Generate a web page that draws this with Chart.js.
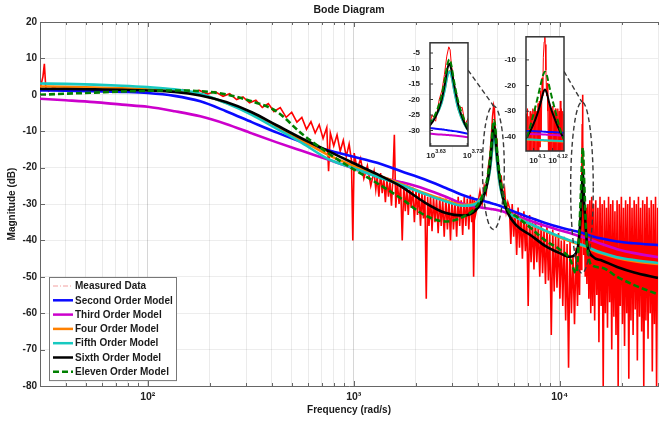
<!DOCTYPE html>
<html>
<head>
<meta charset="utf-8">
<script src="https://cdn.jsdelivr.net/npm/chart.js@4.4.1/dist/chart.umd.min.js"></script>
<style>
  html, body { margin: 0; padding: 0; background: #fff; }
  #wrap { position: relative; width: 663px; height: 425px; }
  #wrap canvas { position: absolute; }
</style>
</head>
<body>
<div id="wrap">
  <canvas id="bode" width="663" height="425" style="left:0;top:0"></canvas>
  <canvas id="zoomA" width="88" height="126" style="left:400px;top:36px"></canvas>
  <canvas id="zoomB" width="80" height="135" style="left:496px;top:30px"></canvas>
</div>
<script>
// --- data ---
const freq = [30, 40, 55, 75, 100, 135, 180, 240, 320, 420, 560, 750, 1000, 1300, 1700,
  2200, 2800, 3400, 3900, 4200, 4400, 4560, 4670, 4740, 4800, 4860, 4940, 5070, 5270, 5600,
  6200, 7200, 8500, 10000, 11200, 12000, 12360, 12650, 12800, 12880, 12940, 13000, 13080, 13250, 13550,
  14500, 16000, 19000, 23000, 30000];

const secondOrder = [1.2, 1.1, 1.0, 0.8, 0.5, -0.3, -1.8, -4.5, -7.5, -10.3, -13, -15.2, -17, -18.7, -21,
  -23.2, -25.6, -27.6, -28.7, -29.1, -29.4, -29.6, -29.8, -29.9, -30.0, -30.1, -30.2, -30.4, -30.8, -31.4,
  -32.4, -33.8, -35.2, -36.4, -37.1, -37.5, -37.7, -37.8, -37.9, -37.95, -38, -38.05, -38.1, -38.2, -38.4,
  -38.9, -39.5, -40.3, -40.8, -41.3];
const thirdOrder = [-1.1, -1.5, -2.0, -2.7, -3.3, -4.5, -5.9, -8.0, -10.6, -13, -15.4, -17.8, -20.2, -22.4, -24.0,
  -25.8, -28, -30, -30.7, -31.0, -31.2, -31.3, -31.4, -31.45, -31.5, -31.55, -31.65, -31.8, -32.0, -32.5,
  -33.3, -34.6, -36, -37.2, -38.0, -38.5, -38.8, -38.95, -39.0, -39.05, -39.1, -39.15, -39.2, -39.3, -39.5,
  -40.1, -41, -42.4, -43.5, -44.6];
const fourOrder = [2.3, 2.2, 2.0, 1.8, 1.5, 1.0, 0, -2.2, -5.0, -8.5, -12.5, -16.5, -19.5, -22, -24.5,
  -27, -29, -30.3, -29.8, -27.8, -25.3, -21.3, -16.3, -12.3, -10.8, -12.3, -16.8, -22.8, -27.8, -31.8,
  -33.7, -35.5, -37.4, -39.2, -40.2, -40.8, -41.1, -41.3, -41.4, -41.45, -41.5, -41.55, -41.6, -41.7, -41.9,
  -42.7, -43.6, -44.8, -45.7, -46.5];
const fifthOrder = [3.1, 3.0, 2.8, 2.5, 2.1, 1.5, 0.3, -2.3, -5.5, -9.2, -13.2, -17.6, -20.2, -22.5, -24.8,
  -27.2, -29.3, -30.5, -30, -28, -25.5, -21.5, -16.5, -12.5, -11, -12.5, -17, -23, -28, -32,
  -33.8, -35.5, -37.3, -39, -40, -40.6, -40.9, -41.1, -41.2, -41.25, -41.3, -41.35, -41.4, -41.5, -41.7,
  -42.5, -43.4, -44.6, -45.4, -46.2];
const sixthOrder = [1.6, 1.6, 1.5, 1.4, 1.2, 0.8, -0.2, -2.0, -4.8, -8.3, -12.0, -15.4, -18.8, -21.8, -25.2,
  -29.5, -32.5, -33.2, -31.8, -29, -25.5, -20.5, -14.5, -10, -8.5, -10.5, -15, -21.5, -27.5, -32.5,
  -36, -38.5, -41.5, -43.5, -44.5, -43.5, -40.5, -33, -27, -23, -21.5, -23, -27, -33, -40.5,
  -44.5, -45.5, -47.3, -48.8, -50.3];
const elevenOrder = [0, 0.3, 0.6, 0.9, 1.1, 1.2, 1.0, 0.1, -1.8, -4.5, -10.7, -16.0, -20.5, -24.3, -28.5,
  -33, -34.8, -33.5, -31, -28, -24.5, -19, -13, -8.5, -7, -9, -14, -20.5, -26.5, -31.5,
  -33.5, -36.5, -40, -42.5, -45, -49, -41, -28, -20, -16, -14.6, -16, -20.5, -29, -41,
  -47, -47.5, -50, -52.3, -54.8];

const modelLabels = ['Second Order Model', 'Third Order Model', 'Four Order Model',
  'Fifth Order Model', 'Sixth Order Model', 'Eleven Order Model'];
const modelSeries = [secondOrder, thirdOrder, fourOrder, fifthOrder, sixthOrder, elevenOrder];
const modelColors = ['#0a0aff', '#cc00cc', '#ff8000', '#17c9c0', '#000000', '#008000'];

// measured frequency response [rad/s, dB]
const measured = [
  [30,1.5],[31,5],[31.5,8.5],[32,2],[33,1],[35,2.2],[37,1.2],[40,1.8],[44,1.2],[48,2],[53,1.3],[58,1.9],
  [64,1.2],[70,1.8],[77,1.1],[85,1.7],[93,1.0],[102,1.6],[112,0.9],[123,1.5],[135,0.8],[148,1.4],[162,0.6],
  [178,1.2],[195,0.2],[212,0.9],[232,-0.4],[250,0.3],[270,-1.3],[290,-0.6],[312,-2.2],[335,-1.5],[360,-3.5],
  [385,-2.4],[410,-4.6],[440,-3.5],[470,-6.2],[500,-4.8],[530,-7.5],[560,-6.2],[590,-9.5],[620,-7.4],
  [650,-10.5],[680,-8.2],[710,-12],[740,-9],[755,-21],[770,-10.5],[800,-14],[830,-11],[860,-15.5],[890,-12.5],
  [920,-17],[950,-13.5],[975,-18],[990,-40],[1005,-16],[1040,-20.5],[1080,-17.5],[1120,-23],[1165,-19.5],
  [1210,-25],[1255,-21],[1280,-26],[1300,-22.5],[1325,-28],[1350,-21.5],[1375,-27],[1400,-23],[1425,-29.5],
  [1450,-23],[1475,-28],[1500,-24],[1525,-30.5],[1550,-22.5],[1575,-11],[1600,-31],[1630,-24],[1660,-30],
  [1690,-24.5],[1720,-40],[1750,-25],[1780,-32],[1810,-25.5],[1840,-33],[1870,-26],[1900,-31],[1935,-25.5],
  [1970,-35],[2005,-26],[2040,-33],[2075,-26.5],[2110,-36],[2145,-27],[2180,-34],[2215,-27],[2250,-56],
  [2285,-28],[2320,-36],[2360,-27.5],[2400,-37.5],[2440,-28],[2480,-35],[2525,-28.5],[2570,-38],[2615,-28],
  [2660,-36],[2705,-29],[2750,-39],[2800,-28.5],[2850,-37],[2900,-29],[2950,-40],[3000,-28.5],[3050,-37],
  [3105,-29],[3160,-39],[3215,-28],[3270,-36],[3325,-29],[3380,-38.5],[3440,-28],[3500,-36],[3560,-28.5],
  [3620,-37],[3680,-27.5],[3740,-35],[3780,-28],[3820,-50],[3860,-29],[3900,-33],
  [4000,-30],[4100,-26.5],[4200,-30],[4300,-25],[4400,-27],[4500,-20],[4580,-17],[4650,-12],
  [4720,-6],[4780,-3],[4820,-4],[4860,-9],[4910,-12],[4960,-16.5],[5020,-18],[5100,-23],[5200,-22.5],
  [5300,-28],[5400,-26],[5500,-32],[5600,-29.5],
  [5700,-31],[5790,-41],[5880,-30],[5980,-39],[6080,-32],[6180,-44],[6280,-31],[6380,-42],[6480,-33],
  [6590,-45],[6700,-32],[6810,-43],[6920,-34],[7030,-58],[7140,-33],[7260,-46],[7380,-35],[7500,-48],
  [7620,-34],[7740,-46],[7870,-36],[8000,-50],[8130,-35],[8260,-49],[8390,-37],[8530,-52],[8670,-36],
  [8810,-51],[8950,-38],[9100,-66],[9250,-37],[9400,-54],[9550,-39],[9700,-53],[9860,-38],[10020,-56],
  [10180,-40],[10350,-58],[10520,-39],[10690,-62],[10860,-41],[11040,-75],[11220,-40],[11400,-60],
  [11600,-44],[11800,-63],[12000,-42],[12200,-58],[12350,-38],[12480,-55],[12600,-33],[12700,-48],
  [12800,-22],[12860,-8],[12900,0],[12930,-2],[12960,-12],[13000,-28],[13080,-44],[13180,-32],[13300,-50],
  [13420,-31],[13550,-52],[13700,-30],[13850,-56],[14000,-29],[14150,-60],[14300,-28],[14450,-58],
  [14600,-30],[14780,-62],[14960,-29],[15140,-55],[15320,-31],[15500,-68],[15690,-28],[15880,-58],
  [16070,-30],[16260,-80],[16460,-29],[16660,-60],[16860,-31],[17060,-64],[17260,-28],[17470,-57],
  [17680,-30],[17890,-70],[18100,-29],[18320,-61],[18540,-32],[18760,-66],[18990,-29],[19220,-80],
  [19450,-30],[19680,-58],[19920,-28],[20160,-63],[20400,-31],[20640,-69],[20890,-29],[21140,-60],
  [21390,-30],[21650,-78],[21910,-28],[22170,-62],[22440,-31],[22710,-66],[22980,-29],[23260,-59],
  [23540,-30],[23820,-73],[24110,-28],[24400,-61],[24690,-31],[24990,-65],[25290,-29],[25590,-80],
  [25900,-30],[26210,-62],[26520,-28],[26840,-67],[27160,-31],[27490,-60],[27820,-29],[28150,-76],
  [28490,-30],[28830,-63],[29180,-28],[29530,-80],[29900,-31]
];

// finer sampling of the measurement around the second resonance (inset)
const measuredZoom2 = [
  [12365,-31],[12385,-48],[12405,-29],[12425,-47],[12445,-32],[12465,-48],[12485,-30],[12505,-47],
  [12525,-31],[12545,-48],[12565,-29],[12585,-46],[12605,-30],[12625,-47],[12645,-28],[12665,-48],
  [12685,-30],[12705,-46],[12725,-27],[12745,-47],[12765,-26],[12785,-44],[12805,-22],[12825,-38],
  [12850,-17],[12870,-24],[12890,-9],[12915,-3],[12935,0],[12950,-4],[12970,-14],[12990,-24],
  [13010,-19],[13030,-30],[13050,-46],[13070,-27],[13090,-48],[13110,-29],[13130,-47],[13150,-30],
  [13170,-48],[13190,-28],[13210,-47],[13230,-30],[13250,-48],[13270,-29],[13290,-47],[13310,-31],
  [13330,-48],[13350,-29],[13370,-47],[13390,-30],[13410,-48],[13430,-26],[13450,-47],[13470,-29],
  [13490,-48],[13510,-30],[13530,-47],[13550,-31]
];

// axes
const xTickVals = [30, 40, 50, 60, 70, 80, 90, 100, 200, 300, 400, 500, 600, 700, 800, 900,
  1000, 2000, 3000, 4000, 5000, 6000, 7000, 8000, 9000, 10000, 20000, 30000];
const xTickLabels = { 100: '10²', 1000: '10³', 10000: '10⁴' };

const zoomA = { freq: [4246, 5395], db: [-35, -1.7], xTicks: [4266.6, 5370.3], xExp: ['3.63', '3.73'],
  yTicks: [-30, -25, -20, -15, -10, -5] };
const zoomB = { freq: [12359, 13552], db: [-45.5, -1], xTicks: [12589, 13183], xExp: ['4.1', '4.12'],
  yTicks: [-40, -30, -20, -10] };

// dashed ellipses marking the zoomed resonances
const ellipseFreq = [[4217, 5383], [11300, 14550]];
const ellipseDb = [[-3, -37], [-2, -49]];
const connectorDb = [-10.5, -14.5];

const FONT = '"Liberation Sans", Arial, Helvetica, sans-serif';

function buildSets(measPts, width, measWidth) {
  const sets = [{
    label: 'Measured Data',
    data: measPts.map(([f, db]) => ({ x: f, y: db })),
    borderColor: '#ff0000', borderWidth: measWidth, pointRadius: 0, order: 7
  }];
  modelSeries.forEach((vals, i) => {
    sets.push({
      label: modelLabels[i],
      data: freq.map((f, k) => ({ x: f, y: vals[k] })),
      borderColor: modelColors[i],
      borderWidth: width,
      borderDash: i === 5 ? [6, 3] : [],
      pointRadius: 0,
      cubicInterpolationMode: 'monotone',
      order: 6 - i
    });
  });
  return sets;
}

const insetFrame = {
  id: 'insetFrame',
  beforeDatasetsDraw(chart) {
    const { ctx, chartArea: a } = chart;
    ctx.save();
    ctx.fillStyle = '#fff';
    ctx.fillRect(a.left, a.top, a.right - a.left, a.bottom - a.top);
    ctx.restore();
  },
  afterDatasetsDraw(chart) {
    const { ctx, chartArea: a, scales } = chart;
    const z = chart.options.zoomInfo;
    ctx.save();
    ctx.strokeStyle = '#333';
    ctx.lineWidth = 1.5;
    ctx.strokeRect(a.left, a.top, a.right - a.left, a.bottom - a.top);
    ctx.lineWidth = 1;
    ctx.beginPath();
    scales.y.ticks.forEach(t => {
      const y = scales.y.getPixelForValue(t.value);
      ctx.moveTo(a.left, y); ctx.lineTo(a.left + 3, y);
    });
    scales.x.ticks.forEach(t => {
      const x = scales.x.getPixelForValue(t.value);
      ctx.moveTo(x, a.bottom); ctx.lineTo(x, a.bottom - 3);
    });
    ctx.stroke();
    // power-of-ten tick labels with raised exponent
    ctx.fillStyle = '#222';
    ctx.textBaseline = 'alphabetic';
    ctx.textAlign = 'left';
    scales.x.ticks.forEach((t, i) => {
      const x = scales.x.getPixelForValue(t.value);
      ctx.font = 'bold 8px ' + FONT;
      const wb = ctx.measureText('10').width;
      ctx.fillText('10', x - wb / 2, a.bottom + 12);
      ctx.font = 'bold 5.5px ' + FONT;
      ctx.fillText(z.xExp[i], x + wb / 2, a.bottom + 7);
    });
    ctx.restore();
  }
};

function makeInset(id, z, xHeight, padRight) {
  return new Chart(document.getElementById(id), {
    type: 'line',
    data: { datasets: buildSets(id === 'zoomA' ? measured : measuredZoom2, 2, 1) },
    options: {
      responsive: false, animation: false, events: [],
      zoomInfo: z,
      layout: { padding: { top: 6, right: padRight, left: 0, bottom: 0 } },
      plugins: { legend: { display: false }, tooltip: { enabled: false } },
      scales: {
        x: {
          type: 'logarithmic', min: z.freq[0], max: z.freq[1],
          afterBuildTicks: s => { s.ticks = z.xTicks.map(v => ({ value: v })); },
          afterFit: s => { s.height = xHeight; },
          ticks: { autoSkip: false, maxRotation: 0, callback: () => '' },
          grid: { display: false }, border: { display: false }
        },
        y: {
          min: z.db[0], max: z.db[1],
          afterBuildTicks: s => { s.ticks = z.yTicks.map(v => ({ value: v })); },
          afterFit: s => { s.width = 30; },
          ticks: { padding: 2, color: '#222', font: { family: FONT, size: 8, weight: 'bold' } },
          grid: { display: false }, border: { display: false }
        }
      }
    },
    plugins: [insetFrame]
  });
}

const insetA = makeInset('zoomA', zoomA, 16, 20);
const insetB = makeInset('zoomB', zoomB, 14, 12);
const insets = [insetA, insetB];

const bodeDecor = {
  id: 'bodeDecor',
  afterDatasetsDraw(chart) {
    const { ctx, scales: { x, y } } = chart;
    ctx.save();
    ctx.strokeStyle = '#3a3a3a';
    ctx.lineWidth = 1.4;
    ctx.setLineDash([5, 3]);
    ellipseFreq.forEach((fr, i) => {
      const x1 = x.getPixelForValue(fr[0]), x2 = x.getPixelForValue(fr[1]);
      const y1 = y.getPixelForValue(ellipseDb[i][0]), y2 = y.getPixelForValue(ellipseDb[i][1]);
      const cx = (x1 + x2) / 2;
      ctx.beginPath();
      ctx.ellipse(cx, (y1 + y2) / 2, (x2 - x1) / 2, (y2 - y1) / 2, 0, 0, Math.PI * 2);
      ctx.stroke();
      // connector from inset frame to ellipse top
      const ins = insets[i];
      const off = ins.canvas;
      const sx = parseFloat(off.style.left) + ins.chartArea.right;
      const sy = parseFloat(off.style.top) + ins.scales.y.getPixelForValue(connectorDb[i]);
      ctx.beginPath();
      ctx.moveTo(sx, sy);
      ctx.lineTo(cx, y1);
      ctx.stroke();
    });
    ctx.restore();
  },
  afterDraw(chart) {
    const { ctx, chartArea: a, scales: { x, y } } = chart;
    ctx.save();
    // top frame and inner tick marks
    ctx.strokeStyle = '#666';
    ctx.lineWidth = 1;
    ctx.beginPath();
    ctx.moveTo(a.left, a.top + 0.5); ctx.lineTo(a.right, a.top + 0.5);
    x.ticks.forEach(t => {
      const px = Math.round(x.getPixelForValue(t.value)) + 0.5;
      const len = xTickLabels[t.value] ? 5 : 3;
      ctx.moveTo(px, a.bottom); ctx.lineTo(px, a.bottom - len);
      ctx.moveTo(px, a.top); ctx.lineTo(px, a.top + len);
    });
    y.ticks.forEach(t => {
      const py = Math.round(y.getPixelForValue(t.value)) + 0.5;
      ctx.moveTo(a.left, py); ctx.lineTo(a.left + 5, py);
    });
    ctx.stroke();

    // title
    ctx.fillStyle = '#1a1a1a';
    ctx.font = 'bold 10.5px ' + FONT;
    ctx.textAlign = 'center';
    ctx.textBaseline = 'middle';
    ctx.fillText('Bode Diagram', (a.left + a.right) / 2, 10);

    // legend
    const lx = 49, ly = 277, lw = 127, row = 14.3;
    const sets = chart.data.datasets;
    ctx.fillStyle = '#fff';
    ctx.fillRect(lx, ly, lw, row * sets.length + 3);
    ctx.strokeStyle = '#777';
    ctx.strokeRect(lx + 0.5, ly + 0.5, lw, row * sets.length + 3);
    ctx.font = 'bold 10px ' + FONT;
    ctx.textAlign = 'left';
    sets.forEach((ds, i) => {
      const yy = ly + 9 + i * row;
      ctx.beginPath();
      if (i === 0) {
        ctx.strokeStyle = '#f2a0a0';
        ctx.lineWidth = 1;
        ctx.setLineDash([5, 2, 1, 2]);
      } else {
        ctx.strokeStyle = ds.borderColor;
        ctx.lineWidth = 2.5;
        ctx.setLineDash(ds.borderDash || []);
      }
      ctx.moveTo(lx + 4, yy); ctx.lineTo(lx + 24, yy);
      ctx.stroke();
      ctx.setLineDash([]);
      ctx.fillStyle = '#1a1a1a';
      ctx.fillText(ds.label, lx + 26, yy + 0.5);
    });
    ctx.restore();
  }
};

new Chart(document.getElementById('bode'), {
  type: 'line',
  data: { datasets: buildSets(measured, 2.6, 1.6) },
  options: {
    responsive: false, animation: false, events: [],
    layout: { padding: { top: 22, right: 0, left: 0, bottom: 0 } },
    plugins: { legend: { display: false }, tooltip: { enabled: false } },
    scales: {
      x: {
        type: 'logarithmic', min: 30, max: 30000,
        afterBuildTicks: s => { s.ticks = xTickVals.map(v => ({ value: v })); },
        afterFit: s => { s.height = 39; },
        ticks: { autoSkip: false, maxRotation: 0, padding: 5, color: '#222',
          font: { family: FONT, size: 10.5, weight: 'bold' },
          callback: v => xTickLabels[v] || '' },
        grid: { drawTicks: false,
          color: c => (c.tick && xTickLabels[c.tick.value]) ? 'rgba(0,0,0,0.16)' : 'rgba(0,0,0,0.08)' },
        border: { color: '#666' },
        title: { display: true, text: 'Frequency (rad/s)', color: '#1a1a1a',
          font: { family: FONT, size: 10, weight: 'bold' }, padding: { top: 0, bottom: 9 } }
      },
      y: {
        min: -80, max: 20,
        afterFit: s => { s.width = 40; },
        ticks: { stepSize: 10, padding: 3, color: '#222', font: { family: FONT, size: 10, weight: 'bold' } },
        grid: { drawTicks: false, color: 'rgba(0,0,0,0.07)' },
        border: { color: '#666' },
        title: { display: true, text: 'Magnitude (dB)', color: '#1a1a1a',
          font: { family: FONT, size: 10, weight: 'bold' }, padding: { top: 6, bottom: 0 } }
      }
    }
  },
  plugins: [bodeDecor]
});
</script>
</body>
</html>
